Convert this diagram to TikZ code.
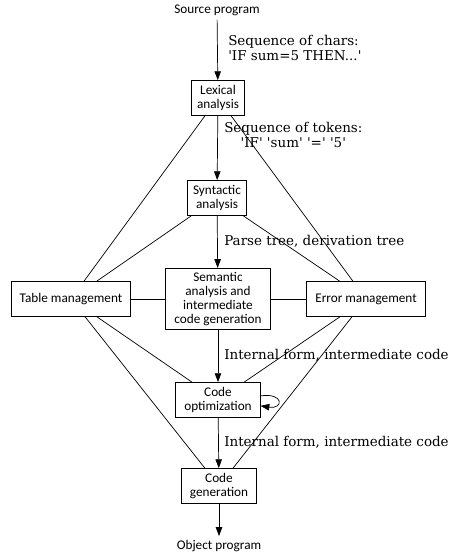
\documentclass[tikz,border=0pt]{standalone}
\usepackage{fontspec}
\setmainfont{DejaVu Serif}
\newfontfamily\boxfont{Carlito}
\usetikzlibrary{arrows.meta}

\newcommand{\sq}{\textquotesingle}

\begin{document}
\begin{tikzpicture}[x=0.03cm, y=-0.03cm, >={Triangle[length=7.5pt,width=5.5pt]},
    line width=0.6pt,
    phase/.style={draw, font=\boxfont\fontsize{11.3}{12.2}\selectfont, align=center,
        inner xsep=5pt, inner ysep=3pt, minimum height=30pt},
    lbl/.style={font=\fontsize{11.5}{13}\selectfont, anchor=west},
    txt/.style={font=\boxfont\fontsize{11.3}{12.2}\selectfont}]
    \useasboundingbox (0,0) rectangle (451,554);
    % phases
    \node[txt] (src) at (217,10) {Source program};
    \node[phase] (lex) at (218,98) {Lexical\\analysis};
    \node[phase] (syn) at (217,198) {Syntactic\\analysis};
    \node[phase, minimum width=90pt] (sem) at (218,299) {Semantic\\analysis and\\intermediate\\code generation};
    \node[phase, minimum width=102pt] (tab) at (71,299) {Table management};
    \node[phase, minimum width=102pt] (err) at (366,299) {Error management};
    \node[phase, minimum width=72pt] (opt) at (218,400) {Code\\optimization};
    \node[phase, minimum width=64pt] (gen) at (219,486) {Code\\generation};
    \node[txt] (obj) at (219,546) {Object program};
    % data passed between phases
    \draw[->] (src) -- (lex);
    \draw[->] (lex) -- (syn);
    \draw[->] (syn) -- (sem);
    \draw[->] (sem) -- (opt);
    \draw[->] (opt) -- (gen);
    \draw[->] (gen) -- (obj);
    \draw[->] ([yshift=3.5pt]opt.east) .. controls +(20pt,3pt) and +(20pt,-3pt) .. ([yshift=-5pt]opt.east);
    \node[lbl, align=left] (l1) at (224,48) {Sequence of chars:\\\sq IF sum=5 THEN...\sq};
    \node[lbl, align=center] (l2) at (220,135) {Sequence of tokens:\\\sq IF\sq\ \sq sum\sq\ \sq=\sq\ \sq 5\sq};
    \node[lbl] (l3) at (220,241) {Parse tree, derivation tree};
    \node[lbl] (l4) at (220,355) {Internal form, intermediate code};
    \node[lbl] (l5) at (220,442) {Internal form, intermediate code};
    % shared tables and error handling
    \foreach \p in {lex,syn,opt,gen} {
        \draw (\p) -- (tab);
        \draw (\p) -- (err);
    }
    \draw (tab) -- (sem);
    \draw (sem) -- (err);
\end{tikzpicture}
\end{document}
